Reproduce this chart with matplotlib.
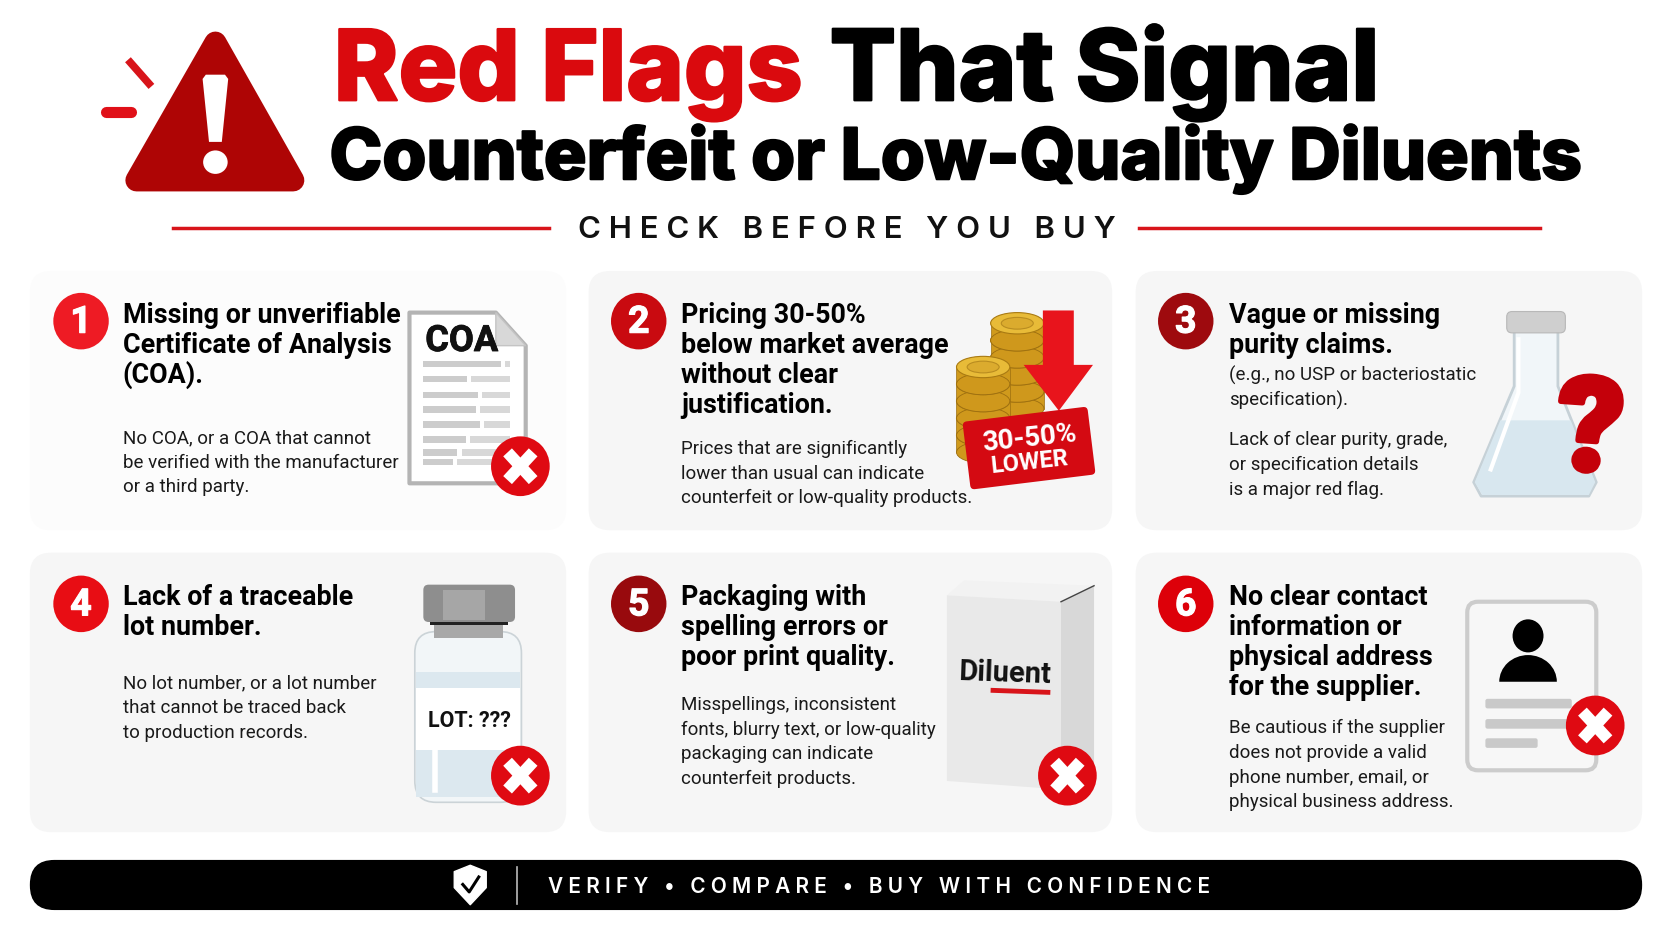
import matplotlib
matplotlib.use("Agg")
import matplotlib.pyplot as plt
import matplotlib.patheffects as pe
from matplotlib.patches import Ellipse, FancyBboxPatch, Polygon, Rectangle, Wedge
from matplotlib.transforms import Affine2D

# text content
numbers = ["1", "2", "3", "4", "5", "6"]
num_colors = ["#EE1B24", "#C90A10", "#9E0A0E", "#E80D14", "#980A0D", "#DD0009"]
headings = [
    ["Missing or unverifiable", "Certificate of Analysis", "(COA)."],
    ["Pricing 30-50%", "below market average", "without clear", "justification."],
    ["Vague or missing", "purity claims."],
    ["Lack of a traceable", "lot number."],
    ["Packaging with", "spelling errors or", "poor print quality."],
    ["No clear contact", "information or", "physical address", "for the supplier."],
]
bodies = [
    ["No COA, or a COA that cannot", "be verified with the manufacturer", "or a third party."],
    ["Prices that are significantly", "lower than usual can indicate", "counterfeit or low-quality products."],
    ["Lack of clear purity, grade,", "or specification details", "is a major red flag."],
    ["No lot number, or a lot number", "that cannot be traced back", "to production records."],
    ["Misspellings, inconsistent", "fonts, blurry text, or low-quality", "packaging can indicate", "counterfeit products."],
    ["Be cautious if the supplier", "does not provide a valid", "phone number, email, or", "physical business address."],
]
extra_lines = ["(e.g., no USP or bacteriostatic", "specification)."]
body_start = [415.5, 425.5, 417.5, 645.5, 665.5, 687.5]
footer_text = "V E R I F Y   •   C O M P A R E   •   B U Y   W I T H   C O N F I D E N C E"
check_text = "C H E C K   B E F O R E   Y O U   B U Y"

# layout, in the units of a 1568 wide canvas
card_x = [28, 552, 1065]
card_w = [503, 491, 475]
card_y = [254, 518]
card_h = [243, 262]
text_x = [115, 639, 1153]
circle_x = [76, 599, 1112]
circle_y = [301, 566]

BODY = "Roboto"
TITLE = "Inter"

fig = plt.figure(figsize=(16.72, 9.41), dpi=100, facecolor="white")
ax = fig.add_axes([0, 0, 1, 1])
ax.set_xlim(0, 1568)
ax.set_ylim(882, 0)
ax.axis("off")


def rbox(x, y, w, h, r, **kw):
    box = FancyBboxPatch((x + r, y + r), w - 2 * r, h - 2 * r,
                         boxstyle=f"round,pad={r},rounding_size={r}", **kw)
    ax.add_patch(box)
    return box


def x_badge(cx, cy):
    ax.add_patch(Ellipse((cx, cy), 55, 56, fc="#DF0A12", ec="none", zorder=5))
    for s in (1, -1):
        ax.plot([cx - 12, cx + 12], [cy - 13 * s, cy + 13 * s], color="white", lw=8.5,
                solid_capstyle="butt", zorder=6)


def heavy(txt, color, lw=1.6):
    # Inter tops out lighter than the reference lettering
    txt.set_path_effects([pe.withStroke(linewidth=lw, foreground=color)])


# header
heavy(ax.text(313, 94, "Red Flags", color="#DA0A0E", fontsize=70.5, family=TITLE, weight=800, va="baseline"), "#DA0A0E", 1.6)
heavy(ax.text(778, 94, "That Signal", color="black", fontsize=70.8, family=TITLE, weight=800, va="baseline"), "black", 1.6)
heavy(ax.text(309, 168, "Counterfeit or Low-Quality Diluents", color="black", fontsize=51.2, family=TITLE, weight=800, va="baseline"), "black", 1.5)

ax.add_patch(Polygon([(202, 40), (128, 169), (275, 169)], closed=True, fc="#AE0505", ec="#AE0505",
                     lw=16, joinstyle="round"))
ax.add_patch(Polygon([(190, 74), (193, 70), (211, 70), (214, 74), (208, 133), (196, 133)], closed=True, fc="white", ec="none"))
ax.add_patch(Ellipse((202, 152), 23, 22, fc="white", ec="none"))
ax.plot([120, 142], [56, 81], color="#D8141A", lw=5.5, solid_capstyle="butt")
ax.plot([99, 123], [105, 105], color="#E01018", lw=8, solid_capstyle="round")

ax.plot([162, 515], [214, 214], color="#D8141A", lw=2.5)
ax.plot([1068, 1444], [214, 214], color="#D8141A", lw=2.5)
ax.text(794, 223, check_text, fontsize=22.4, family=TITLE, weight=600, color="#111111", ha="center", va="baseline")

# cards
k = 0
for row in range(2):
    for col in range(3):
        fc = "#FCFCFC" if k == 0 else "#F6F6F6"
        rbox(card_x[col], card_y[row], card_w[col], card_h[row], 20, fc=fc, ec="none")
        ax.add_patch(Ellipse((circle_x[col], circle_y[row]), 52, 53, fc=num_colors[k], ec="none"))
        num = ax.text(circle_x[col], circle_y[row] + 1, numbers[k], color="white", fontsize=27, family="Roboto", weight="bold",
                      ha="center", va="center")
        heavy(num, "white", 0.8)
        base = card_y[row] + 49
        for i, line in enumerate(headings[k]):
            ax.text(text_x[col], base + 28 * i, line, fontsize=19.4, family=BODY, weight="bold", color="black", va="baseline")
        for i, line in enumerate(bodies[k]):
            ax.text(text_x[col], body_start[k] + 23 * i, line, fontsize=13.5, family=BODY, color="#1A1A1A", va="baseline")
        k += 1
for i, line in enumerate(extra_lines):
    ax.text(1153, 357 + 23 * i, line, fontsize=13.5, family=BODY, color="#1A1A1A", va="baseline")

# 1: COA sheet
ax.add_patch(Polygon([(384, 293), (465, 293), (493, 324), (493, 453), (384, 453)], closed=True,
                     fc="white", ec="#B4B4B4", lw=3, joinstyle="round"))
ax.add_patch(Polygon([(465, 293), (493, 324), (465, 324)], closed=True, fc="#D8D8D8", ec="#C4C4C4", lw=1))
heavy(ax.text(433, 329, "COA", fontsize=26, family="Roboto", weight="bold", color="#111111", ha="center", va="baseline"), "#111111", 0.6)
for yy, x0, x1, x2 in [(341, 397, 470, 478), (355, 397, 438, 478), (370, 397, 448, 478), (384, 397, 446, 478),
                       (398, 397, 450, 478), (412, 397, 437, 478), (424, 397, 429, 478), (433, 397, 425, 478)]:
    ax.add_patch(Rectangle((x0, yy - 3), x1 - x0, 6, fc="#CCCCCC", ec="none"))
    ax.add_patch(Rectangle((x1 + 4, yy - 3), x2 - x1 - 4, 6, fc="#D8D8D8", ec="none"))
x_badge(488, 437)


# 2: coins, arrow and tag
def coin_stack(cx, top, n):
    for j in range(n - 1, -1, -1):
        yy = top + j * 16
        ax.add_patch(Rectangle((cx - 25, yy), 50, 16, fc="#D09A1C", ec="#9C6E10", lw=0.5))
        ax.add_patch(Ellipse((cx, yy + 16), 50, 20, fc="#CF981C", ec="#9C6E10", lw=0.6))
        ax.add_patch(Ellipse((cx, yy), 50, 20, fc="#E8BB38", ec="#A97A12", lw=0.8))
    ax.add_patch(Ellipse((cx, top), 30, 11, fc="#DBAB2E", ec="#B98C20", lw=0.8))


coin_stack(954, 303, 5)
coin_stack(922, 344, 5)
ax.add_patch(Polygon([(978, 291), (1007, 291), (1007, 342), (1025, 342), (993, 385), (960, 342), (978, 342)],
                     closed=True, fc="#E8141C", ec="none"))
tag = rbox(906, 388, 118, 64, 4, fc="#D40A12", ec="none")
tag.set_transform(Affine2D().rotate_deg_around(965, 420, -7) + ax.transData)
ax.text(965, 411, "30-50%", color="white", fontsize=20, family="Roboto", weight="bold", ha="center", va="center", rotation=6)
ax.text(966, 433, "LOWER", color="white", fontsize=17, family="Roboto", weight="bold", ha="center", va="center", rotation=6)

# 3: flask with question mark
ax.add_patch(Polygon([(1420, 310), (1461, 310), (1461, 362), (1497, 452), (1490, 465), (1389, 465), (1382, 452), (1420, 362)],
                     closed=True, fc="#F1F6F9", ec="#C6D1D7", lw=2, joinstyle="round"))
ax.add_patch(Polygon([(1407, 394), (1473, 394), (1496, 452), (1490, 464), (1390, 464), (1383, 452)],
                     closed=True, fc="#D8E7EF", ec="none"))
ax.plot([1424, 1424, 1398], [318, 368, 440], color="white", lw=3)
rbox(1413, 292, 55, 20, 5, fc="#CFCFCF", ec="#B8B8B8", lw=0.8)
heavy(ax.text(1491, 443, "?", color="#C4000A", fontsize=94, family="Roboto", weight="black", ha="center", va="baseline", rotation=-4), "#C4000A", 4)

# 4: vial
rbox(389, 592, 100, 160, 20, fc="#F2F6F8", ec="#CBD3D7", lw=1.2)
ax.add_patch(Rectangle((390, 630), 98, 15, fc="#DCE8EF", ec="none"))
ax.add_patch(Rectangle((390, 703), 98, 44, fc="#DCE8EF", ec="none"))
ax.add_patch(Rectangle((390, 645), 98, 58, fc="white", ec="none"))
ax.plot([408, 408], [705, 740], color="white", lw=4)
ax.add_patch(Rectangle((407, 584), 65, 14, fc="#A8A8A8", ec="none"))
ax.add_patch(Rectangle((403, 582), 73, 4, fc="#222222", ec="none"))
rbox(397, 548, 86, 35, 5, fc="#8E8E8E", ec="none")
ax.add_patch(Rectangle((415, 553), 40, 28, fc="#A6A6A6", ec="none"))
ax.text(440, 681, "LOT: ???", fontsize=15.5, family="Roboto", weight="bold", color="#111111", ha="center", va="baseline")
x_badge(488, 727)

# 5: box
ax.add_patch(Polygon([(888, 558), (904, 544), (1026, 549), (995, 564)], closed=True, fc="#F2F2F2", ec="none"))
ax.add_patch(Polygon([(995, 564), (1026, 549), (1026, 722), (995, 740)], closed=True, fc="#D8D8D8", ec="none"))
ax.add_patch(Polygon([(888, 558), (995, 564), (995, 740), (888, 732)], closed=True, fc="#E9E9E9", ec="none"))
ax.plot([995, 1026], [564, 549], color="#444444", lw=1)
ax.text(942, 640, "Diluent", fontsize=21, family="Roboto", weight="bold", color="#111111", ha="center", va="baseline", rotation=-2)
ax.plot([929, 985], [647, 649], color="#D8141A", lw=3.5, solid_capstyle="butt")
x_badge(1001, 727)

# 6: contact card
rbox(1376, 564, 121, 158, 10, fc="#F7F7F7", ec="#CCCCCC", lw=3)
ax.add_patch(Ellipse((1433, 596), 29, 31, fc="black", ec="none"))
ax.add_patch(Wedge((0, 0), 1, 180, 360, fc="black", ec="none",
                   transform=Affine2D().scale(27, 25).translate(1433, 639) + ax.transData))
for yy, x1 in [(655, 1474), (674, 1474), (692, 1442)]:
    rbox(1393, yy, x1 - 1393, 9, 2, fc="#C9C9C9", ec="none")
x_badge(1496, 680)

# footer
rbox(28, 806, 1512, 47, 23, fc="black", ec="none")
ax.add_patch(Polygon([(441, 811), (456, 817), (456, 832), (441, 848), (426, 832), (426, 817)], closed=True,
                     fc="white", ec="white", lw=1, joinstyle="round"))
ax.plot([434, 440, 449], [829, 836, 822], color="black", lw=2.2)
ax.plot([485, 485], [813, 847], color="#BBBBBB", lw=1.2)
ax.text(824.5, 837, footer_text, color="white", fontsize=15, family=TITLE, weight=600, ha="center", va="baseline")

fig.savefig("out.png", dpi=100)
